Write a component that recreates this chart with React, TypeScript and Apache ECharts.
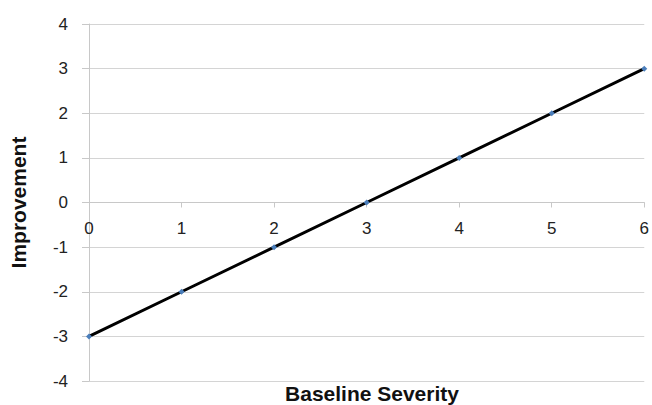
import React, { useEffect, useRef } from "react";
import * as echarts from "echarts";

const baselineSeverity = [0, 1, 2, 3, 4, 5, 6];
const improvement = [-3, -2, -1, 0, 1, 2, 3];
const xTitle = "Baseline Severity";
const yTitle = "Improvement";

export default function App() {
  const ref = useRef<HTMLDivElement>(null);
  useEffect(() => {
    if (!ref.current) return;
    const chart = echarts.init(ref.current, undefined, { renderer: "svg" });
    const font = "Arial, 'Liberation Sans', sans-serif";
    chart.setOption({
      animation: false,
      backgroundColor: "#ffffff",
      grid: { left: 89, right: 7, top: 24, bottom: 24 },
      xAxis: {
        type: "value",
        min: 0,
        max: 6,
        interval: 1,
        offset: -178.5,
        axisLine: { onZero: false, lineStyle: { color: "#c8c8c8", width: 1 } },
        axisTick: { show: true, inside: false, length: 5, lineStyle: { color: "#c8c8c8" } },
        axisLabel: { color: "#222", fontSize: 17, fontFamily: font, margin: 17 },
        splitLine: { show: false },
      },
      yAxis: {
        type: "value",
        min: -4,
        max: 4,
        interval: 1,
        axisLine: { show: true, onZero: false, lineStyle: { color: "#c8c8c8", width: 1 } },
        axisTick: { show: true, length: 7, lineStyle: { color: "#c8c8c8" } },
        axisLabel: { color: "#222", fontSize: 17, fontFamily: font, margin: 21 },
        splitLine: { show: true, lineStyle: { color: "#d4d4d4", width: 1 } },
        name: yTitle,
        nameLocation: "middle",
        nameRotate: 90,
        nameGap: 60,
        nameTextStyle: { color: "#111", fontSize: 21, fontWeight: "bold", fontFamily: font },
      },
      graphic: [
        {
          type: "text",
          x: 372,
          y: 393,
          style: {
            text: xTitle,
            fill: "#111",
            font: `bold 21px ${font}`,
            textAlign: "center",
            textVerticalAlign: "middle",
          },
        },
      ],
      series: [
        {
          type: "line",
          data: baselineSeverity.map((x, i) => [x, improvement[i]]),
          symbol: "diamond",
          symbolSize: 6,
          showSymbol: true,
          lineStyle: { color: "#000000", width: 3 },
          itemStyle: { color: "#4a7ebb" },
          z: 3,
        },
      ],
    });
    return () => chart.dispose();
  }, []);
  return (
    <div
      ref={ref}
      style={{ position: "fixed", left: 0, top: 0, width: 652, height: 405 }}
    />
  );
}
